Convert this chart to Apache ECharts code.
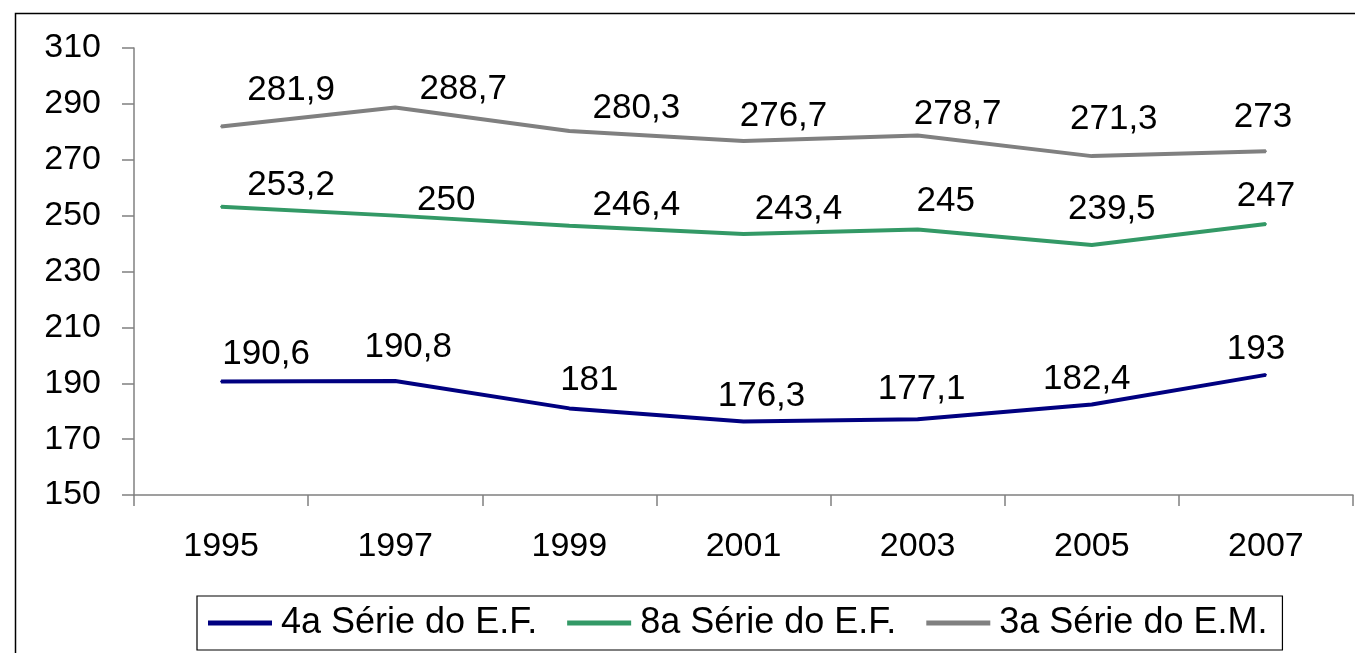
<!DOCTYPE html>
<html>
<head>
<meta charset="utf-8">
<script src="https://cdn.jsdelivr.net/npm/echarts@6/dist/echarts.min.js"></script>
<style>
html,body{margin:0;padding:0;background:#fff;}
#chart{width:1355px;height:653px;}
</style>
</head>
<body>
<div id="chart"></div>
<script>
const categories = ['1995','1997','1999','2001','2003','2005','2007'];
const serie4EF = [190.6, 190.8, 181, 176.3, 177.1, 182.4, 193];
const serie8EF = [253.2, 250, 246.4, 243.4, 245, 239.5, 247];
const serie3EM = [281.9, 288.7, 280.3, 276.7, 278.7, 271.3, 273];
const seriesNames = ['4a Série do E.F.', '8a Série do E.F.', '3a Série do E.M.'];
const yTicks = {min: 150, max: 310, interval: 20};

// label nudges (relative to each point's default "top" label spot)
const nudge4EF = [[45,-7],[13,-13],[20,-8],[18,-5],[4,-9],[-5,-5],[-10,-5]];
const nudge8EF = [[70,-1],[51,5],[67,0],[55,-4],[28,-8],[20,-15],[0,-7]];
const nudge3EM = [[70,-16],[68,2],[67,-2],[40,-4],[40,-1],[22,-16],[-3,-14]];

const FONT = 'Liberation Sans, Arial, sans-serif';

function mkSeries(name, values, color, nudges) {
  return {
    name: name,
    type: 'line',
    data: values.map((v, i) => ({value: v, label: {offset: nudges[i]}})),
    symbol: 'circle',
    symbolSize: 2,
    showSymbol: true,
    lineStyle: {color: color, width: 4},
    itemStyle: {color: color},
    label: {
      show: true,
      position: 'top',
      distance: 2,
      color: '#000',
      fontFamily: FONT,
      fontSize: 35,
      formatter: p => String(p.value).replace('.', ',')
    },
    emphasis: {disabled: true},
    animation: false
  };
}

const chart = echarts.init(document.getElementById('chart'), null, {renderer: 'canvas'});
chart.setOption({
  backgroundColor: '#fff',
  animation: false,
  graphic: [{
    type: 'rect',
    left: 13, top: 11,
    shape: {width: 1400, height: 700},
    style: {fill: 'none', stroke: '#000', lineWidth: 1.5},
    silent: true, z: -1
  }],
  grid: {left: 134, top: 48, right: 2, bottom: 158, containLabel: false},
  xAxis: {
    type: 'category',
    data: categories,
    boundaryGap: true,
    axisLine: {lineStyle: {color: '#808080', width: 1.5}},
    axisTick: {show: true, inside: false, length: 11, alignWithLabel: false, lineStyle: {color: '#808080', width: 1.5}},
    axisLabel: {color: '#000', fontFamily: FONT, fontSize: 34, margin: 35},
    splitLine: {show: false}
  },
  yAxis: {
    type: 'value',
    min: yTicks.min, max: yTicks.max, interval: yTicks.interval,
    axisLine: {show: true, lineStyle: {color: '#808080', width: 1.5}},
    axisTick: {show: true, inside: false, length: 12, lineStyle: {color: '#808080', width: 1.5}},
    axisLabel: {color: '#000', fontFamily: FONT, fontSize: 34, margin: 33},
    splitLine: {show: false}
  },
  legend: {
    data: seriesNames,
    left: 197, top: 596,
    orient: 'horizontal',
    padding: [9, 15, 9, 11],
    borderColor: '#000', borderWidth: 1.2,
    icon: 'rect',
    itemWidth: 64, itemHeight: 5,
    itemGap: 30,
    textStyle: {color: '#000', fontFamily: FONT, fontSize: 36, padding: [0, 0, 0, 4]}
  },
  series: [
    mkSeries(seriesNames[0], serie4EF, '#000080', nudge4EF),
    mkSeries(seriesNames[1], serie8EF, '#339966', nudge8EF),
    mkSeries(seriesNames[2], serie3EM, '#808080', nudge3EM)
  ]
});
</script>
</body>
</html>
